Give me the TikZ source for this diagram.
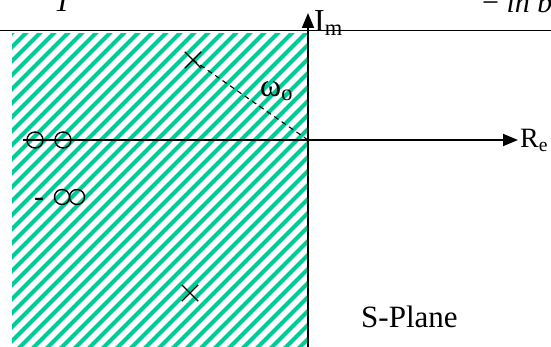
\documentclass[tikz,border=0pt]{standalone}
\usepackage{fontspec}
\setmainfont{Liberation Serif}
\usetikzlibrary{arrows.meta, shapes.misc}
\definecolor{hatchGreen}{HTML}{00CC99}

\begin{document}
\begin{tikzpicture}[x=1pt, y=-1pt, >={Triangle[length=15pt,width=12pt]},
  axis/.style={line width=1.8pt},
  zero/.style={circle, draw, line width=1.4pt, minimum size=16pt, inner sep=0pt},
  pole/.style={cross out, draw, line width=1.4pt, minimum size=15pt, inner sep=0pt},
  lbl/.style={inner sep=0pt}]
  \useasboundingbox (0,0) rectangle (551,347);

  % hatched left half plane
  \begin{scope}
    \clip (12,34) rectangle (308,347);
    \foreach \i in {0,...,45} {
      \draw[hatchGreen, line width=4pt] (-305+14*\i,350) -- ++(330,-330);
    }
  \end{scope}

  % cut-off heading
  \node[lbl, anchor=base west, font=\fontsize{30}{30}\selectfont\itshape] (head) at (54,12) {T};
  \node[lbl, anchor=base west, font=\fontsize{30}{30}\selectfont\itshape] (tail) at (482,13) {\textup{\textminus} ln b};
  \draw[axis] (0,30.5) -- (551,30.5);

  % axes
  \coordinate (O) at (308,140);
  \coordinate (reS) at (23,140);
  \coordinate (reE) at (518,140);
  \coordinate (imS) at (308,347);
  \coordinate (imE) at (308,13);
  \draw[axis, ->] (reS) -- (reE);
  \draw[axis, ->] (imS) -- (imE);
  \node[lbl, anchor=base west, font=\fontsize{28}{28}\selectfont] (re) at (520,148) {R\textsubscript{e}};
  \node[lbl, anchor=base west, font=\fontsize{32}{32}\selectfont] (im) at (314,32) {I\textsubscript{m}};

  % zeros
  \node[zero] (z1) at (35,140) {};
  \node[zero] (z2) at (63,140) {};
  \node[lbl, anchor=base, font=\fontsize{30}{30}\selectfont] (minus) at (39,207) {-};
  \node[zero, minimum size=15pt] (z3) at (62,197) {};
  \node[zero, minimum size=15pt] (z4) at (77,197) {};

  % poles
  \node[pole] (p1) at (193,60) {};
  \node[pole] (p2) at (190,293) {};
  \draw[line width=1.1pt, dash pattern=on 5pt off 4pt] (p1.center) -- (O);
  \node[lbl, anchor=base west, font=\fontsize{32}{32}\selectfont] (wo) at (260,97) {ω\textsubscript{o}};

  \node[lbl, anchor=base west, font=\fontsize{31}{31}\selectfont] (plane) at (361,327) {S-Plane};
\end{tikzpicture}
\end{document}
